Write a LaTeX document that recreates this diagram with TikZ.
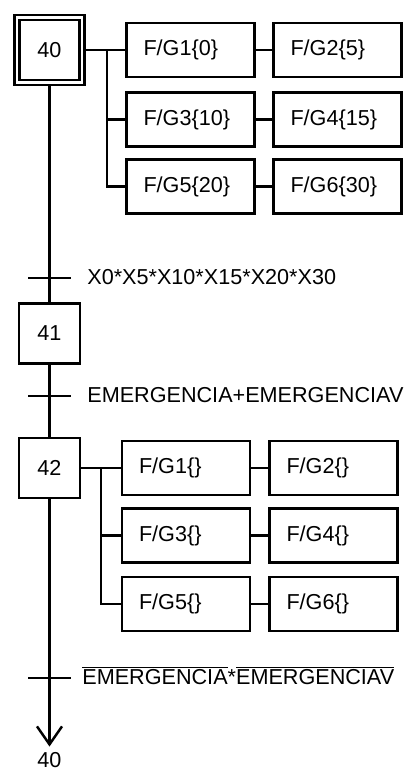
\documentclass[tikz,border=0pt]{standalone}
\usepackage{fontspec}
\setmainfont{Liberation Sans}
\usetikzlibrary{arrows.meta}
\tikzset{
  flow/.style    ={line width=1.4pt, black},
  trans/.style   ={line width=1.4pt, black},
  stepbox/.style ={rectangle, draw, line width=1.4pt, fill=white,
                   minimum width=1.22cm, minimum height=1.2cm, inner sep=0pt,
                   font=\fontsize{12.3}{14}\selectfont},
  initbox/.style ={stepbox, double, double distance=1.6pt, outer sep=1.5pt,
                   minimum width=1.3cm, minimum height=1.3cm},
  act/.style     ={rectangle, draw, line width=1.4pt, fill=white,
                   inner xsep=0.34cm, inner ysep=0pt, text width=1.88cm, align=left,
                   minimum height=1.08cm, font=\fontsize{12.3}{14}\selectfont},
  cond/.style    ={anchor=base west, inner sep=0pt, font=\fontsize{12.3}{14}\selectfont},
  retlbl/.style  ={anchor=base, inner sep=0pt, text depth=0pt,
                   font=\fontsize{12.3}{14}\selectfont},
}
\begin{document}
\begin{tikzpicture}
  \useasboundingbox (0,0) rectangle (8.08,15.42);
  \node[initbox] (s40) at (0.99,14.42) {40};
  \node[stepbox] (s41) at (0.99,8.75)  {41};
  \node[stepbox] (s42) at (0.99,6.06)  {42};
  \coordinate (t1) at (0.99,9.86);
  \coordinate (t2) at (0.99,7.50);
  \coordinate (t3) at (0.99,1.86);
  \node[act] (f1) at (3.81,14.42) {F/G1\{0\}};
  \node[act] (f2) at (6.75,14.42) {F/G2\{5\}};
  \node[act] (f3) at (3.81,13.03) {F/G3\{10\}};
  \node[act] (f4) at (6.75,13.03) {F/G4\{15\}};
  \node[act] (f5) at (3.81,11.69) {F/G5\{20\}};
  \node[act] (f6) at (6.75,11.69) {F/G6\{30\}};
  \coordinate (b40) at (2.14,14.42);
  \draw[flow] (s40) -- (f1);
  \draw[flow] (b40) |- (f3.west);
  \draw[flow] (b40) |- (f5.west);
  \draw[flow] (f1) -- (f2);
  \draw[flow] (f3) -- (f4);
  \draw[flow] (f5) -- (f6);
  \node[act] (g1) at (3.72,6.06) {F/G1\{\}};
  \node[act] (g2) at (6.67,6.06) {F/G2\{\}};
  \node[act] (g3) at (3.72,4.71) {F/G3\{\}};
  \node[act] (g4) at (6.67,4.71) {F/G4\{\}};
  \node[act] (g5) at (3.72,3.34) {F/G5\{\}};
  \node[act] (g6) at (6.67,3.34) {F/G6\{\}};
  \coordinate (b42) at (2.02,6.06);
  \draw[flow] (s42) -- (g1);
  \draw[flow] (b42) |- (g3.west);
  \draw[flow] (b42) |- (g5.west);
  \draw[flow] (g1) -- (g2);
  \draw[flow] (g3) -- (g4);
  \draw[flow] (g5) -- (g6);
  \draw[flow] (s40) -- (s41);
  \draw[flow] (s41) -- (s42);
  \draw[trans] ([xshift=-0.43cm]t1) -- ([xshift=0.43cm]t1);
  \draw[trans] ([xshift=-0.43cm]t2) -- ([xshift=0.43cm]t2);
  \draw[trans] ([xshift=-0.43cm]t3) -- ([xshift=0.43cm]t3);
  \node[cond] (c1) at (1.74,9.72) {X0*X5*X10*X15*X20*X30};
  \node[cond] (c2) at (1.74,7.36) {EMERGENCIA+EMERGENCIAV};
  \node[cond] (c3) at (1.64,1.72) {$\overline{\mbox{EMERGENCIA}}$*$\overline{\mbox{EMERGENCIAV}}$};
  \node[retlbl] (ret) at (0.99,0.06) {40};
  \draw[flow, shorten >=0.12cm, -{Straight Barb[length=0.36cm, width=0.5cm]}] (s42) -- (ret);
\end{tikzpicture}
\end{document}
